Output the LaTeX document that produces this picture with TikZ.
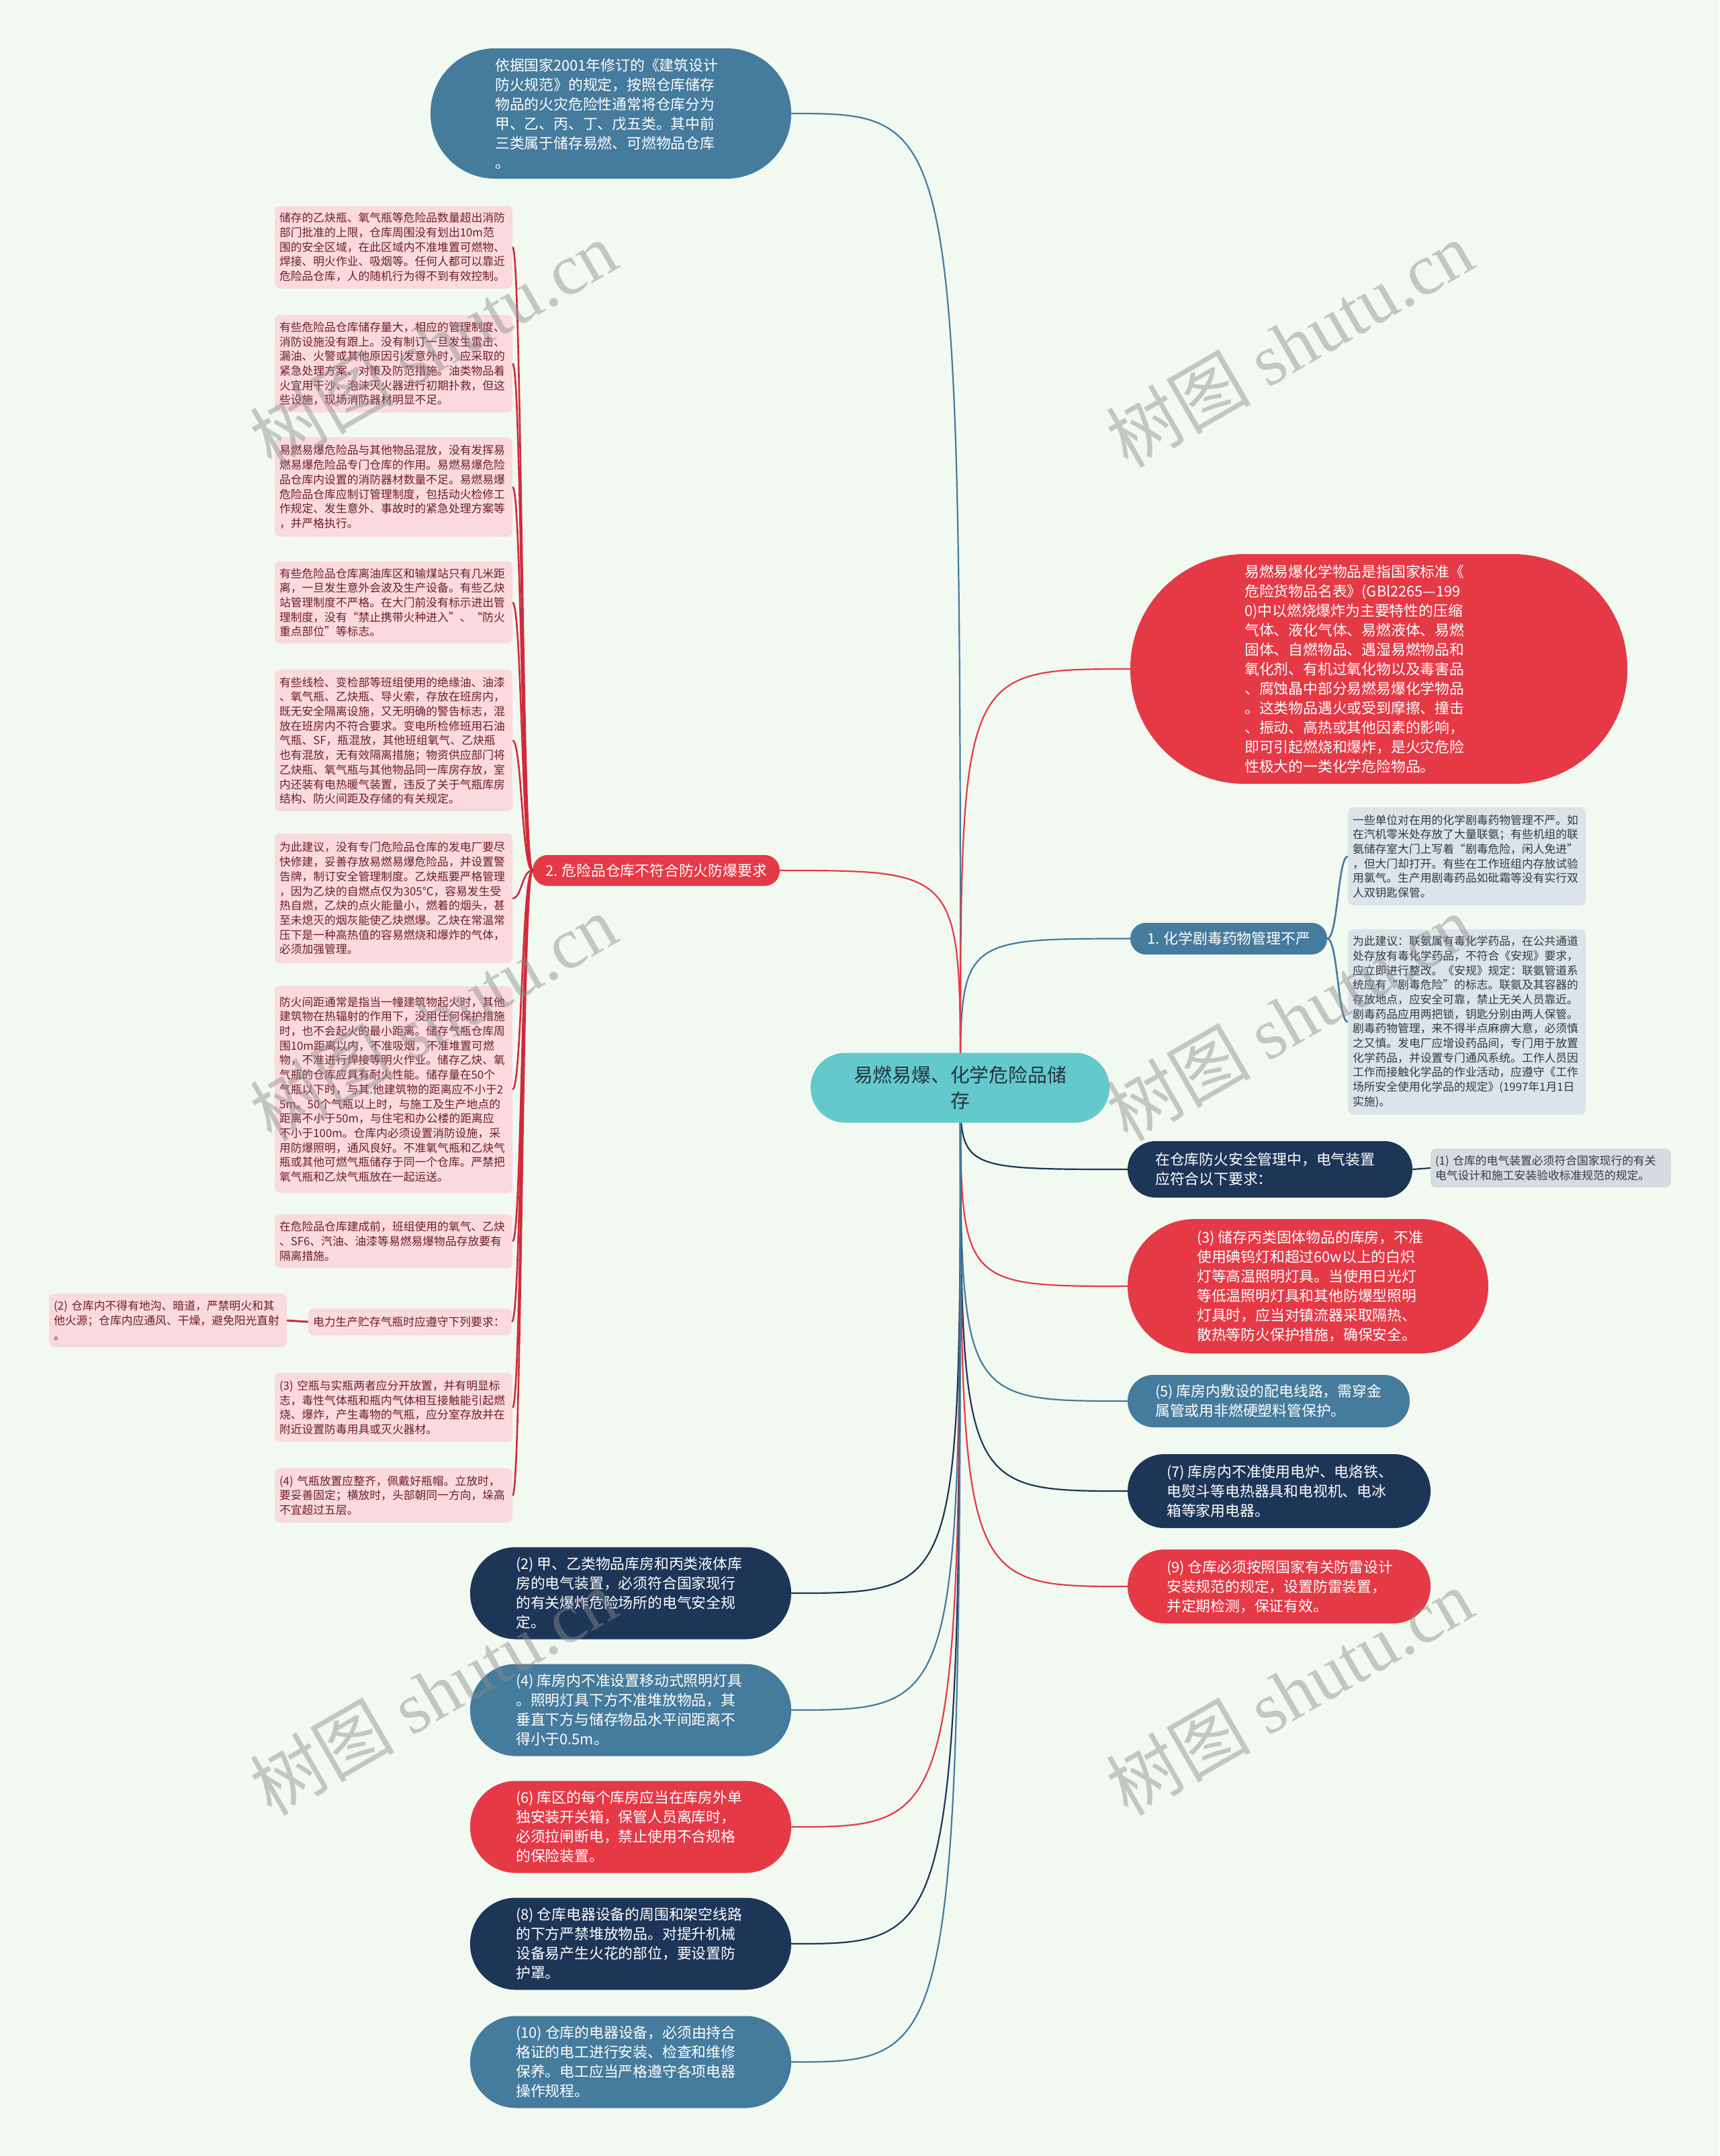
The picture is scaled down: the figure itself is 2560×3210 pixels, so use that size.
\documentclass[tikz,border=0pt]{standalone}
\usepackage{fontspec}
\setmainfont{Noto Sans CJK SC}
\newfontfamily\wmlatin{Liberation Serif}
\definecolor{cBg}{RGB}{241,249,241}
\definecolor{cTeal}{RGB}{99,201,204}
\definecolor{cRootTxt}{RGB}{35,52,62}
\definecolor{cSteel}{RGB}{69,123,157}
\definecolor{cNavy}{RGB}{29,53,87}
\definecolor{cRed}{RGB}{230,57,70}
\definecolor{cRedLine}{RGB}{208,42,60}
\definecolor{cPink}{RGB}{250,218,222}
\definecolor{cPinkTxt}{RGB}{110,30,40}
\definecolor{cGrey}{RGB}{220,228,234}
\definecolor{cGreyB}{RGB}{214,220,226}
\definecolor{cGreyTxt}{RGB}{50,58,66}
\definecolor{cWM}{RGB}{140,140,140}
\tikzset{
  capsule/.style n args={3}{draw=none, inner sep=0pt, minimum width=#1pt, minimum height=#2pt, rounded corners=#3pt},
  captext/.style={inner sep=0pt, anchor=west, align=left, text=white, font=\fontsize{21.8}{29}\selectfont},
  capc/.style={text=white, align=center, font=\fontsize{21.8}{29}\selectfont},
  note/.style={inner xsep=7pt, inner ysep=0pt, rounded corners=8pt, align=left, font=\fontsize{16.8}{21.7}\selectfont},
  pinknote/.style={note, fill=cPink, text=cPinkTxt, text width=340pt},
  greynote/.style={note, fill=cGrey, text=cGreyTxt, text width=340pt},
  conn/.style={line width=2.2pt},
  brk/.style={line width=2.6pt},
  wm/.style={rotate=30, text=cWM, text opacity=0.45, font=\fontsize{108}{108}\selectfont, inner sep=0pt}
}
\begin{document}
\begin{tikzpicture}[x=1pt,y=-1pt]
\useasboundingbox (0,0) rectangle (2560,3210);
\fill[cBg] (0,0) rectangle (2560,3210);
\coordinate (hub) at (1430,1619);

% ---------- shapes of main nodes ----------
\node[capsule={537}{194}{96}, fill=cSteel] (top) at (909.5,169) {};
\node[capsule={740}{342}{170}, fill=cRed] (def) at (2053,996) {};
\node[capsule={293}{47}{23}, fill=cSteel, capc] (n1) at (1829.5,1397.5) {1. 化学剧毒药物管理不严};
\node[capsule={368}{46}{22.5}, fill=cRed, capc] (n2) at (977,1296) {2. 危险品仓库不符合防火防爆要求};
\node[capsule={424}{84}{41.5}, fill=cNavy] (elec) at (1891,1741) {};
\node[capsule={537}{200}{99.5}, fill=cRed] (r3) at (1947.5,1915) {};
\node[capsule={420}{78}{38.5}, fill=cSteel] (r5) at (1889,2086) {};
\node[capsule={451}{110}{54.5}, fill=cNavy] (r7) at (1904.5,2220) {};
\node[capsule={451}{110}{54.5}, fill=cRed] (r9) at (1904.5,2362) {};
\node[capsule={478}{137}{68}, fill=cNavy] (l2) at (939,2372) {};
\node[capsule={478}{137}{68}, fill=cSteel] (l4) at (939,2546) {};
\node[capsule={478}{137}{68}, fill=cRed] (l6) at (939,2720) {};
\node[capsule={478}{137}{68}, fill=cNavy] (l8) at (939,2894) {};
\node[capsule={478}{137}{68}, fill=cSteel] (l10) at (939,3070) {};

% ---------- notes ----------
\node[pinknote, minimum height=123pt] (p1) at (586,368) {储存的乙炔瓶、氧气瓶等危险品数量超出消防\\部门批准的上限，仓库周围没有划出10m范\\围的安全区域，在此区域内不准堆置可燃物、\\焊接、明火作业、吸烟等。任何人都可以靠近\\危险品仓库，人的随机行为得不到有效控制。};
\node[pinknote, minimum height=145pt] (p2) at (586,541.5) {有些危险品仓库储存量大，相应的管理制度、\\消防设施没有跟上。没有制订一旦发生雷击、\\漏油、火警或其他原因引发意外时，应采取的\\紧急处理方案、对策及防范措施。油类物品着\\火宜用干沙、泡沫灭火器进行初期扑救，但这\\些设施，现场消防器材明显不足。};
\node[pinknote, minimum height=148pt] (p3) at (586,725) {易燃易爆危险品与其他物品混放，没有发挥易\\燃易爆危险品专门仓库的作用。易燃易爆危险\\品仓库内设置的消防器材数量不足。易燃易爆\\危险品仓库应制订管理制度，包括动火检修工\\作规定、发生意外、事故时的紧急处理方案等\\，并严格执行。};
\node[pinknote, minimum height=122pt] (p4) at (586,897) {有些危险品仓库离油库区和输煤站只有几米距\\离，一旦发生意外会波及生产设备。有些乙炔\\站管理制度不严格。在大门前没有标示进出管\\理制度，没有“禁止携带火种进入”、“防火\\重点部位”等标志。};
\node[pinknote, minimum height=211pt] (p5) at (586,1102.5) {有些线检、变检部等班组使用的绝缘油、油漆\\、氧气瓶、乙炔瓶、导火索，存放在班房内，\\既无安全隔离设施，又无明确的警告标志，混\\放在班房内不符合要求。变电所检修班用石油\\气瓶、SF，瓶混放，其他班组氧气、乙炔瓶\\也有混放，无有效隔离措施；物资供应部门将\\乙炔瓶、氧气瓶与其他物品同一库房存放，室\\内还装有电热暖气装置，违反了关于气瓶库房\\结构、防火间距及存储的有关规定。};
\node[pinknote, minimum height=193pt] (p6) at (586,1337.5) {为此建议，没有专门危险品仓库的发电厂要尽\\快修建，妥善存放易燃易爆危险品，并设置警\\告牌，制订安全管理制度。乙炔瓶要严格管理\\，因为乙炔的自燃点仅为305℃，容易发生受\\热自燃，乙炔的点火能量小，燃着的烟头，甚\\至未熄灭的烟灰能使乙炔燃爆。乙炔在常温常\\压下是一种高热值的容易燃烧和爆炸的气体，\\必须加强管理。};
\node[pinknote, minimum height=308pt] (p7) at (586,1622) {防火间距通常是指当一幢建筑物起火时，其他\\建筑物在热辐射的作用下，没用任何保护措施\\时，也不会起火的最小距离。储存气瓶仓库周\\围10m距离以内，不准吸烟，不准堆置可燃\\物，不准进行焊接等明火作业。储存乙炔、氧\\气瓶的仓库应具有耐火性能。储存量在50个\\气瓶以下时，与其.他建筑物的距离应不小于2\\5m。50个气瓶以上时，与施工及生产地点的\\距离不小于50m，与住宅和办公楼的距离应\\不小于100m。仓库内必须设置消防设施，采\\用防爆照明，通风良好。不准氧气瓶和乙炔气\\瓶或其他可燃气瓶储存于同一个仓库。严禁把\\氧气瓶和乙炔气瓶放在一起运送。};
\node[pinknote, minimum height=80pt] (p8) at (586,1848) {在危险品仓库建成前，班组使用的氧气、乙炔\\、SF6、汽油、油漆等易燃易爆物品存放要有\\隔离措施。};
\node[pinknote, text width=289pt, minimum height=40pt] (p9) at (610.5,1968) {电力生产贮存气瓶时应遵守下列要求：};
\node[pinknote, minimum height=80pt] (p9c) at (250,1966) {(2)~仓库内不得有地沟、暗道，严禁明火和其\\他火源；仓库内应通风、干燥，避免阳光直射\\。};
\node[pinknote, minimum height=103pt] (p10) at (586,2095.5) {(3)~空瓶与实瓶两者应分开放置，并有明显标\\志，毒性气体瓶和瓶内气体相互接触能引起燃\\烧、爆炸，产生毒物的气瓶，应分室存放并在\\附近设置防毒用具或灭火器材。};
\node[pinknote, minimum height=81pt] (p11) at (586,2226.5) {(4)~气瓶放置应整齐，佩戴好瓶帽。立放时，\\要妥善固定；横放时，头部朝同一方向，垛高\\不宜超过五层。};

\node[greynote, minimum height=146pt] (g1) at (2184,1275) {一些单位对在用的化学剧毒药物管理不严。如\\在汽机零米处存放了大量联氨；有些机组的联\\氨储存室大门上写着“剧毒危险，闲人免进”\\，但大门却打开。有些在工作班组内存放试验\\用氯气。生产用剧毒药品如砒霜等没有实行双\\人双钥匙保管。};
\node[greynote, minimum height=276pt] (g2) at (2184,1521.5) {为此建议：联氨属有毒化学药品，在公共通道\\处存放有毒化学药品，不符合《安规》要求，\\应立即进行整改。《安规》规定：联氨管道系\\统应有“剧毒危险”的标志。联氨及其容器的\\存放地点，应安全可靠，禁止无关人员靠近。\\剧毒药品应用两把锁，钥匙分别由两人保管。\\剧毒药物管理，来不得半点麻痹大意，必须慎\\之又慎。发电厂应增设药品间，专门用于放置\\化学药品，并设置专门通风系统。工作人员因\\工作而接触化学品的作业活动，应遵守《工作\\场所安全使用化学品的规定》(1997年1月1日\\实施)。};
\node[greynote, fill=cGreyB, text width=344pt, minimum height=58pt] (g3) at (2309,1739) {(1)~仓库的电气装置必须符合国家现行的有关\\电气设计和施工安装验收标准规范的规定。};

% ---------- connectors (drawn below the root) ----------
\draw[conn, cSteel] (top.east) .. controls (1430,169) .. (hub);
\draw[conn, cRed] (def.west) .. controls (1430,996) .. (hub);
\draw[conn, cSteel] (n1.west) .. controls (1430,1397.5) .. (hub);
\draw[conn, cRed] (n2.east) .. controls (1430,1296) .. (hub);
\draw[conn, cNavy] (elec.west) .. controls (1430,1741) .. (hub);
\draw[conn, cRed] (r3.west) .. controls (1430,1915) .. (hub);
\draw[conn, cSteel] (r5.west) .. controls (1430,2086) .. (hub);
\draw[conn, cNavy] (r7.west) .. controls (1430,2220) .. (hub);
\draw[conn, cRed] (r9.west) .. controls (1430,2362) .. (hub);
\draw[conn, cNavy] (l2.east) .. controls (1430,2372) .. (hub);
\draw[conn, cSteel] (l4.east) .. controls (1430,2546) .. (hub);
\draw[conn, cRed] (l6.east) .. controls (1430,2720) .. (hub);
\draw[conn, cNavy] (l8.east) .. controls (1430,2894) .. (hub);
\draw[conn, cSteel] (l10.east) .. controls (1430,3070) .. (hub);

\foreach \p/\yy in {p1/368,p2/541.5,p3/725,p4/897,p5/1102.5,p6/1337.5,p7/1622,p8/1848,p9/1968,p10/2095.5,p11/2226.5}
  \draw[brk, cRedLine] (n2.west) .. controls (777,1296) and (777,\yy) .. (\p.east);
\draw[brk, cRedLine, line width=3pt] (p9.west) -- (p9c.east);
\draw[brk, cSteel] (n1.east) .. controls (1992,1397.5) and (1992,1275) .. (g1.west);
\draw[brk, cSteel] (n1.east) .. controls (1992,1397.5) and (1992,1521.5) .. (g2.west);
\draw[conn, cNavy] (elec.east) -- (g3.west);

% ---------- root ----------
\node[capsule={445}{104}{51.5}, fill=cTeal, align=center, text=cRootTxt, font=\fontsize{28.8}{38}\selectfont] (root) at (1429.5,1619.5) {易燃易爆、化学危险品储\\存};

% ---------- texts of the capsules ----------
\node[captext] (topt) at (737,169) {依据国家2001年修订的《建筑设计\\防火规范》的规定，按照仓库储存\\物品的火灾危险性通常将仓库分为\\甲、乙、丙、丁、戊五类。其中前\\三类属于储存易燃、可燃物品仓库\\。};
\node[captext] (deft) at (1853,996) {易燃易爆化学物品是指国家标准《\\危险货物品名表》(GBl2265—199\\0)中以燃烧爆炸为主要特性的压缩\\气体、液化气体、易燃液体、易燃\\固体、自燃物品、遇湿易燃物品和\\氧化剂、有机过氧化物以及毒害品\\、腐蚀晶中部分易燃易爆化学物品\\。这类物品遇火或受到摩擦、撞击\\、振动、高热或其他因素的影响，\\即可引起燃烧和爆炸，是火灾危险\\性极大的一类化学危险物品。};
\node[captext] (elect) at (1720,1741) {在仓库防火安全管理中，电气装置\\应符合以下要求：};
\node[captext] (r3t) at (1782,1915) {(3) 储存丙类固体物品的库房，不准\\使用碘钨灯和超过60w以上的白炽\\灯等高温照明灯具。当使用日光灯\\等低温照明灯具和其他防爆型照明\\灯具时，应当对镇流器采取隔热、\\散热等防火保护措施，确保安全。};
\node[captext] (r5t) at (1720,2086) {(5) 库房内敷设的配电线路，需穿金\\属管或用非燃硬塑料管保护。};
\node[captext] (r7t) at (1737,2220) {(7) 库房内不准使用电炉、电烙铁、\\电熨斗等电热器具和电视机、电冰\\箱等家用电器。};
\node[captext] (r9t) at (1737,2362) {(9) 仓库必须按照国家有关防雷设计\\安装规范的规定，设置防雷装置，\\并定期检测，保证有效。};
\node[captext] (l2t) at (768,2372) {(2) 甲、乙类物品库房和丙类液体库\\房的电气装置，必须符合国家现行\\的有关爆炸危险场所的电气安全规\\定。};
\node[captext] (l4t) at (768,2546) {(4) 库房内不准设置移动式照明灯具\\。照明灯具下方不准堆放物品，其\\垂直下方与储存物品水平间距离不\\得小于0.5m。};
\node[captext] (l6t) at (768,2720) {(6) 库区的每个库房应当在库房外单\\独安装开关箱，保管人员离库时，\\必须拉闸断电，禁止使用不合规格\\的保险装置。};
\node[captext] (l8t) at (768,2894) {(8) 仓库电器设备的周围和架空线路\\的下方严禁堆放物品。对提升机械\\设备易产生火花的部位，要设置防\\护罩。};
\node[captext] (l10t) at (768,3070) {(10) 仓库的电器设备，必须由持合\\格证的电工进行安装、检查和维修\\保养。电工应当严格遵守各项电器\\操作规程。};

% ---------- watermarks ----------
\foreach \i/\x/\y in {1/645/512, 2/1920/512, 3/645/1515, 4/1920/1515, 5/645/2519, 6/1920/2519}
  \node[wm] (wm\i) at (\x,\y) {树图 {\wmlatin shutu.cn}};
\end{tikzpicture}
\end{document}
